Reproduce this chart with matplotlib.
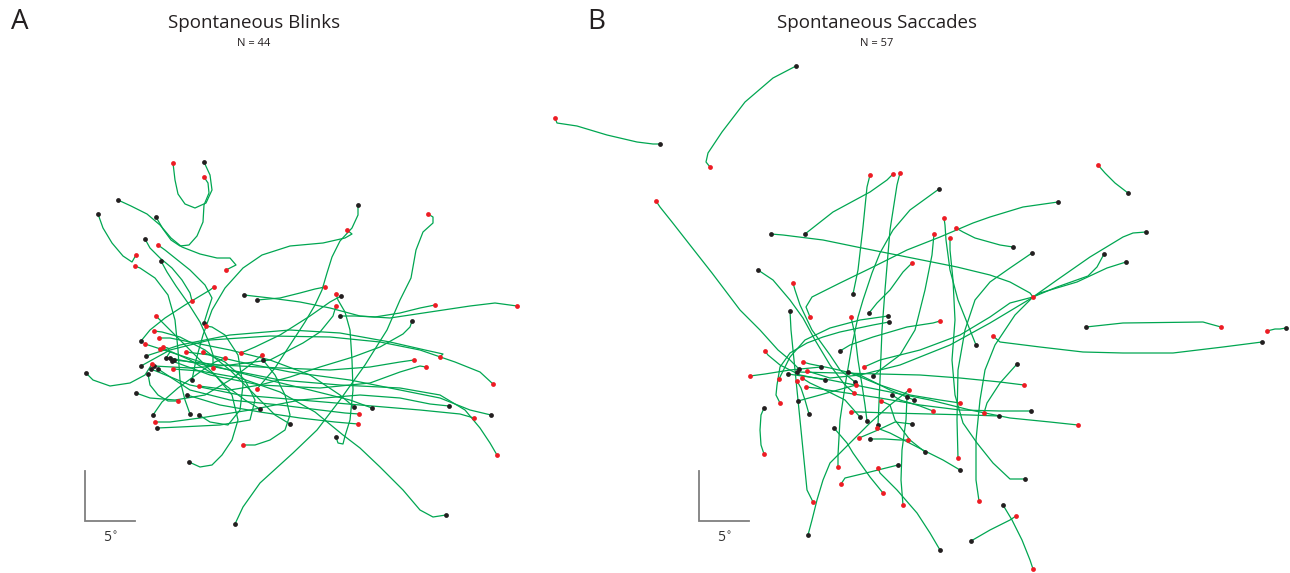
import numpy as np
import matplotlib
matplotlib.use("Agg")
import matplotlib.pyplot as plt

# gaze traces in degrees (screen coordinates, y grows downward);
# each trace runs from its start sample (black) to its end sample (red)
blink_paths = [
    [(20.4,16.2),(21.0,17.5),(21.2,19.0),(20.6,20.3),(19.5,20.8),(18.5,20.4),(17.8,19.4),(17.5,18.0),(17.3,16.3)],
    [(15.6,21.7),(16.3,22.9),(17.1,24.0),(18.0,24.6),(18.9,24.5),(19.7,23.6),(20.3,22.2),(20.4,20.5),(20.9,19.3),(20.8,18.3),(20.4,17.7)],
    [(11.8,20.0),(13.1,20.6),(14.7,21.4),(16.0,22.5),(17.1,23.8),(18.2,24.7),(20.0,25.4),(21.7,25.8),(23.0,25.8),(23.6,26.5),(22.6,27.0)],
    [(9.8,21.4),(10.3,22.8),(11.2,24.3),(12.3,25.6),(13.2,26.2),(13.6,25.5)],
    [(14.5,23.9),(15.0,24.8),(16.0,25.8),(17.2,26.8),(18.2,28.0),(19.0,29.3),(19.2,30.1)],
    [(16.1,26.1),(16.7,27.2),(17.6,28.6),(18.8,30.3),(20.0,32.2),(20.8,34.0),(21.3,35.5),(21.3,36.8)],
    [(24.4,29.5),(27.0,29.8),(30.0,30.2),(33.0,30.8),(36.0,31.6),(39.0,31.8),(43.0,31.2),(47.0,30.6),(49.5,30.3),(51.7,30.6)],
    [(35.8,20.5),(35.8,21.5),(35.2,22.8),(34.0,24.1),(33.2,25.7),(32.7,27.3),(32.2,29.0),(31.5,30.5),(30.5,32.2),(29.0,34.5),(27.5,36.8),(26.3,38.2),(25.7,38.9)],
    [(19.2,38.0),(19.6,36.0),(20.3,33.5),(21.2,31.0),(22.5,28.8),(24.3,26.8),(26.2,25.5),(29.0,24.6),(32.3,24.3),(34.5,23.8),(35.2,23.4),(34.7,23.0)],
    [(23.5,52.4),(24.3,50.7),(26.0,48.3),(29.3,45.3),(31.7,43.0),(34.0,40.0),(36.5,36.5),(38.7,33.0),(40.0,30.0),(41.1,27.8),(41.6,25.0),(42.3,23.2),(43.3,22.3),(43.3,21.7),(42.8,21.4)],
    [(44.6,51.5),(43.3,51.7),(42.0,51.0),(40.3,49.0),(38.0,46.7),(36.0,44.8),(34.3,43.5),(31.5,41.2),(28.0,39.2),(24.0,37.8),(20.0,37.1),(17.3,36.9)],
    [(17.0,35.8),(22.0,36.8),(28.0,38.0),(34.0,38.5),(40.0,38.8),(44.0,39.5),(46.5,41.0),(48.0,42.8),(49.0,44.3),(49.7,45.5)],
    [(14.1,36.6),(17.0,35.0),(21.0,34.0),(27.0,33.6),(33.0,33.7),(38.0,34.2),(42.0,35.0),(45.5,36.2),(48.0,37.2),(49.3,38.4)],
    [(14.6,35.6),(18.0,34.5),(23.0,33.5),(29.0,33.0),(34.0,33.3),(39.0,34.2),(42.5,35.0),(44.3,35.4),(44.0,35.7)],
    [(34.0,31.6),(35.5,31.6),(37.5,31.7),(40.0,31.3),(42.0,30.8),(43.5,30.5)],
    [(15.4,36.6),(19.0,36.8),(23.0,36.5),(27.0,36.0),(30.3,34.3),(32.0,33.2),(33.3,31.6),(33.6,30.6)],
    [(33.6,43.7),(33.8,44.3),(34.3,44.4),(34.5,43.6),(35.0,42.0),(35.3,39.0),(35.2,36.0),(35.0,33.0),(34.5,31.2),(33.8,30.0),(33.6,29.4)],
    [(41.2,32.1),(41.0,32.7),(40.3,33.4),(38.0,34.7),(35.3,35.7),(32.0,36.7),(29.0,37.7),(26.0,38.5),(23.0,39.0),(19.9,38.6)],
    [(25.7,30.0),(28.0,29.8),(30.0,29.3),(31.5,28.9),(32.5,28.7)],
    [(34.1,29.6),(33.0,30.2),(31.0,31.6),(28.0,33.5),(25.5,34.7),(24.1,35.3)],
    [(20.4,32.3),(20.8,31.0),(21.2,29.8),(20.5,28.5),(19.0,27.0),(17.5,25.8),(16.5,25.0),(15.8,24.5)],
    [(14.1,34.1),(15.0,33.0),(16.5,31.8),(18.5,30.5),(20.0,29.6),(21.0,29.0),(21.4,28.7)],
    [(26.3,36.0),(27.5,37.5),(28.5,39.5),(29.0,41.5),(28.5,43.0),(27.0,44.0),(25.5,44.5),(24.3,44.5)],
    [(17.4,36.0),(22.0,36.5),(28.0,36.8),(33.0,37.0),(37.0,36.7),(40.0,36.2),(41.4,36.0)],
    [(17.2,36.1),(21.0,37.5),(26.0,38.5),(32.0,38.8),(37.0,38.3),(40.0,37.2),(42.0,36.6),(42.6,36.7)],
    [(15.1,36.9),(19.0,38.5),(24.0,39.5),(30.0,40.0),(36.0,40.5),(42.0,41.0),(46.0,41.4),(47.4,41.8)],
    [(15.8,36.9),(19.0,39.0),(23.0,40.0),(28.0,40.5),(32.0,41.0),(34.5,41.3),(35.9,41.4)],
    [(14.8,37.4),(15.0,38.5),(15.8,39.5),(16.8,40.1),(17.8,40.1)],
    [(8.6,37.3),(9.3,38.0),(11.0,38.6),(13.0,38.3),(14.5,37.5),(15.2,36.4)],
    [(13.6,39.3),(15.0,39.8),(17.5,40.0),(20.5,39.5),(23.0,38.0),(25.0,36.5),(26.2,35.5)],
    [(18.7,39.5),(22.0,40.5),(26.0,41.2),(30.0,41.8),(33.5,42.2),(35.8,42.4)],
    [(26.0,40.9),(24.5,40.0),(22.5,38.5),(20.5,36.5),(18.5,34.5),(17.0,33.0),(16.0,32.0),(15.6,31.6)],
    [(15.3,41.5),(16.2,40.2),(17.8,38.8),(20.0,37.2),(21.5,36.2),(22.5,35.8)],
    [(19.0,41.4),(18.5,40.0),(18.0,38.0),(17.8,35.0),(17.5,32.0),(16.8,29.5),(15.5,27.8),(14.0,26.8),(13.5,26.6)],
    [(19.9,41.5),(21.0,42.2),(22.8,42.5),(24.0,41.0),(24.3,38.5),(23.8,35.5),(22.5,33.5),(21.2,32.7),(20.6,32.6)],
    [(15.7,42.8),(18.0,42.7),(22.0,42.5),(25.0,42.0),(25.5,40.0),(24.5,38.0),(22.5,36.2),(20.3,35.2)],
    [(29.0,42.4),(27.5,41.5),(25.5,39.5),(23.0,37.0),(20.5,35.0),(18.0,33.7),(16.2,33.2),(15.4,33.1)],
    [(35.4,40.7),(34.0,39.5),(31.0,37.5),(27.0,36.0),(23.0,35.0),(19.0,34.2),(17.0,33.8),(15.9,33.8)],
    [(37.2,40.8),(35.0,40.0),(31.0,39.0),(26.0,37.8),(21.0,36.5),(17.0,35.2),(14.5,34.4)],
    [(44.9,40.6),(43.0,40.4),(40.0,39.8),(36.0,39.5),(30.0,40.0),(25.0,41.0),(20.0,41.8),(17.0,42.2),(15.5,42.2)],
    [(49.1,41.5),(47.0,41.0),(44.0,39.8),(40.0,39.0),(35.0,38.0),(29.0,37.2),(24.0,36.2),(21.0,35.5),(18.6,35.2)],
    [(18.9,46.2),(20.0,46.7),(21.2,46.5),(22.2,45.5),(23.2,44.0),(23.8,42.0),(23.2,39.5),(21.5,37.5),(19.0,36.0),(17.2,35.2),(16.0,34.9)],
    [(16.6,35.8),(17.0,35.2),(16.8,34.8),(16.3,34.7)],
]

saccade_paths = [
    [(19.6,6.6),(17.3,7.8),(14.5,10.2),(12.2,13.2),(10.8,15.3),(10.6,16.2),(11.0,16.7)],
    [(6.0,14.4),(5.3,14.4),(3.7,14.2),(0.7,13.5),(-2.3,12.6),(-4.3,12.3),(-4.5,11.8)],
    [(25.3,29.4),(25.8,27.0),(26.3,22.7),(26.7,18.7),(27.0,17.5)],
    [(20.5,23.4),(23.3,21.2),(27.0,19.2),(28.7,18.0),(29.3,17.4)],
    [(27.8,42.5),(28.0,38.0),(28.2,33.0),(28.5,29.0),(29.0,23.0),(29.7,18.5),(30.0,17.3)],
    [(17.1,23.4),(18.3,23.5),(22.3,24.0),(25.7,24.7),(30.7,25.7),(35.7,26.7),(39.0,27.5),(41.0,28.2),(43.0,29.3),(43.3,29.7)],
    [(45.8,20.2),(42.3,20.7),(39.0,21.7),(37.3,22.3),(34.0,23.7),(30.7,25.0),(27.3,26.7),(24.0,28.3),(21.2,29.7),(20.6,30.7),(21.0,31.7)],
    [(52.8,19.3),(51.5,18.3),(50.5,17.3),(49.8,16.5)],
    [(41.3,24.7),(40.0,24.5),(37.5,23.8),(36.3,23.2),(35.6,22.8)],
    [(54.6,23.2),(53.3,23.3),(52.3,23.7),(49.0,25.7),(45.7,28.0),(43.3,29.7),(41.5,31.5),(39.5,34.5),(38.5,37.0),(38.0,40.0),(37.6,44.0),(37.6,48.0),(37.9,50.1)],
    [(48.6,32.7),(52.3,32.3),(60.3,32.2),(61.0,32.4),(62.1,32.7)],
    [(68.6,32.8),(68.0,32.9),(67.5,32.9),(66.7,33.1)],
    [(66.2,34.2),(62.3,34.7),(57.3,35.3),(52.3,35.3),(48.3,35.2),(44.0,34.7),(40.0,34.2),(39.3,33.6)],
    [(19.0,31.1),(19.1,33.0),(19.5,37.0),(20.0,42.0),(20.4,46.0),(20.7,49.0),(21.3,50.2)],
    [(26.9,31.3),(27.7,30.3),(29.0,29.0),(30.3,27.2),(31.2,26.3)],
    [(28.9,32.2),(27.3,32.5),(24.0,33.2),(22.3,33.7),(20.7,34.3),(19.0,35.3),(18.0,36.7),(17.7,38.5),(17.6,39.5),(18.0,40.3)],
    [(24.0,35.1),(25.0,34.5),(27.3,33.7),(30.7,32.7),(33.3,32.3),(34.0,32.1)],
    [(41.7,36.4),(40.0,38.3),(38.7,40.3),(38.4,41.3)],
    [(19.9,36.9),(19.0,36.0),(17.8,35.0),(16.0,33.0),(14.0,31.0),(11.2,27.3),(9.0,24.5),(7.2,22.2),(6.0,20.7),(5.6,20.1)],
    [(22.1,36.7),(19.0,37.0),(16.5,37.4),(15.0,37.6)],
    [(30.7,39.7),(30.6,42.0),(30.2,45.0),(30.1,48.0),(30.3,50.5)],
    [(16.4,40.8),(16.1,41.5),(16.0,43.0),(16.1,44.5),(16.4,45.4)],
    [(23.4,42.8),(24.7,44.3),(25.3,45.3),(27.0,47.7),(28.3,49.3)],
    [(27.0,43.9),(28.5,43.9),(30.0,44.0),(30.8,44.0)],
    [(36.0,47.0),(34.3,46.0),(32.3,45.0),(29.0,43.3),(27.7,42.8)],
    [(29.8,46.5),(27.0,47.2),(24.5,47.8),(24.1,48.4)],
    [(42.5,47.9),(41.0,47.9),(39.3,46.3),(37.7,44.3),(36.3,42.3),(35.5,39.5),(35.2,36.0),(35.5,32.0),(35.3,28.0),(35.0,25.0),(35.0,23.8)],
    [(40.3,50.5),(41.2,52.0),(42.2,54.0),(43.0,56.0),(43.3,56.9)],
    [(37.1,54.1),(39.0,53.0),(41.0,52.0),(41.6,51.6)],
    [(34.0,55.0),(33.0,53.3),(31.7,51.3),(29.7,49.0),(28.0,47.3),(27.8,46.8)],
    [(33.9,18.9),(31.0,21.0),(29.3,23.0),(28.0,25.3),(27.2,27.3),(26.3,30.0),(25.8,31.7),(25.2,34.5),(24.6,38.0),(24.0,42.0),(23.8,45.5),(23.8,46.7)],
    [(43.2,25.3),(41.0,26.8),(39.0,28.2),(37.5,30.0),(36.5,33.0),(35.8,37.0),(35.7,42.0),(35.8,45.8)],
    [(50.4,25.4),(49.7,26.7),(48.8,27.6),(45.7,28.7),(43.3,29.7),(41.0,30.3),(39.0,31.7),(36.0,33.5),(32.0,35.0),(28.0,36.0),(26.4,36.7)],
    [(52.6,26.2),(50.7,26.8),(47.7,28.2),(44.0,29.3),(39.0,32.3),(35.0,34.5),(30.0,36.5),(26.0,37.5),(23.0,37.8),(20.7,37.1)],
    [(15.8,27.0),(17.3,28.0),(19.0,30.0),(20.3,31.8),(21.5,34.0),(23.0,36.5),(24.5,38.5),(25.4,39.3)],
    [(28.8,31.6),(26.0,32.0),(23.0,32.8),(20.5,34.0),(19.0,35.7),(17.9,37.9)],
    [(37.6,34.5),(36.8,32.5),(35.8,30.0),(35.0,27.0),(34.6,24.0),(34.5,22.5),(34.4,21.8)],
    [(43.1,41.1),(40.0,41.1),(36.0,41.0),(32.0,40.5),(28.0,39.8),(24.0,39.2),(21.5,38.8),(20.6,38.7)],
    [(39.9,41.6),(37.0,41.5),(33.0,41.4),(29.0,41.3),(26.0,41.2),(25.1,41.2)],
    [(18.8,37.4),(23.0,38.0),(28.0,39.0),(33.0,40.0),(37.0,41.0),(41.0,41.8),(45.0,42.2),(47.8,42.5)],
    [(19.7,37.2),(24.0,37.3),(28.0,37.4),(32.0,37.5),(36.0,37.8),(40.0,38.2),(42.4,38.5)],
    [(24.8,37.2),(28.0,38.5),(31.0,39.5),(34.0,40.0),(36.0,40.3)],
    [(27.3,37.6),(28.0,37.0),(30.0,35.5),(31.5,33.0),(32.5,29.0),(33.2,25.5),(33.4,23.4)],
    [(22.5,38.0),(20.0,37.5),(18.0,36.5),(16.8,35.5),(16.5,35.1)],
    [(25.5,38.2),(24.0,37.0),(23.0,35.5),(21.2,33.0),(20.0,30.5),(19.5,29.0),(19.3,28.3)],
    [(29.2,39.5),(30.0,40.0),(32.0,40.6),(33.3,41.1)],
    [(31.4,40.0),(29.0,39.0),(26.0,37.5),(23.0,36.8),(21.0,36.4),(20.3,36.2)],
    [(19.8,40.1),(22.0,39.5),(24.5,38.8),(25.6,38.5)],
    [(20.9,41.4),(20.5,40.0),(20.1,38.8),(19.7,38.1)],
    [(26.0,41.7),(24.5,40.0),(22.5,39.0),(21.0,38.3),(20.2,37.8)],
    [(26.7,42.1),(26.5,40.5),(26.2,38.5),(25.8,36.0),(25.5,33.5),(25.1,31.7)],
    [(31.2,42.4),(29.5,42.2),(27.8,43.0),(25.9,43.8)],
    [(32.5,45.2),(31.0,44.0),(29.5,42.0),(29.0,40.5),(28.1,40.1)],
    [(20.8,53.5),(21.2,52.0),(21.7,50.0),(22.3,48.0),(23.0,46.3),(24.3,45.0),(27.0,42.3),(29.0,40.5),(30.9,39.0)],
]

panel_letters = ["A", "B"]
panel_titles = ["Spontaneous Blinks", "Spontaneous Saccades"]
panel_counts = [44, 57]
scale_deg = 5

TRACE = "#00a651"
START = "#231f20"
END = "#ed1c24"
BAR = "#7f7f7f"

plt.rcParams["font.family"] = ["Open Sans", "DejaVu Sans"]

W, H = 1290, 573
fig = plt.figure(figsize=(W / 100, H / 100), dpi=100)


def px_axes(x0, x1, y0, y1):
    return fig.add_axes([x0 / W, 1 - y1 / H, (x1 - x0) / W, (y1 - y0) / H])


def draw_panel(ax, paths, bar_origin):
    for p in paths:
        xy = np.array(p)
        ax.plot(xy[:, 0], xy[:, 1], color=TRACE, lw=0.9, zorder=1,
                solid_joinstyle="round", solid_capstyle="round")
    starts = np.array([p[0] for p in paths])
    ends = np.array([p[-1] for p in paths])
    ax.scatter(starts[:, 0], starts[:, 1], s=12, color=START, lw=0, zorder=3)
    ax.scatter(ends[:, 0], ends[:, 1], s=12, color=END, lw=0, zorder=3)

    # 5 degree scale bar
    bx, by = bar_origin
    ax.plot([bx, bx, bx + scale_deg], [by - scale_deg, by, by],
            color=BAR, lw=1.3, solid_joinstyle="miter", zorder=2)
    ax.text(bx + scale_deg / 2, by + 1.0, f"{scale_deg}$^{{\\circ}}$",
            ha="center", va="top", fontsize=10, color="#333333")
    ax.invert_yaxis()
    ax.axis("off")


# 10 px per degree in both panels
axA = px_axes(40, 540, 60, 573)
axA.set_xlim(4, 54)
axA.set_ylim(6, 57.3)
draw_panel(axA, blink_paths, (8.5, 52.1))

axB = px_axes(540, 1290, 60, 573)
axB.set_xlim(-6, 69)
axB.set_ylim(6, 57.3)
draw_panel(axB, saccade_paths, (9.9, 52.1))

for i, (cx, lx) in enumerate([(254, 20), (877, 596)]):
    fig.text(lx / W, 1 - 22 / H, panel_letters[i], fontsize=20,
             ha="center", va="center", color="#231f20")
    fig.text(cx / W, 1 - 23 / H, panel_titles[i], fontsize=13.5,
             ha="center", va="center", color="#231f20")
    fig.text(cx / W, 1 - 44 / H, f"N = {panel_counts[i]}", fontsize=8,
             ha="center", va="center", color="#231f20")

fig.savefig("out.png", dpi=100, facecolor="white")
